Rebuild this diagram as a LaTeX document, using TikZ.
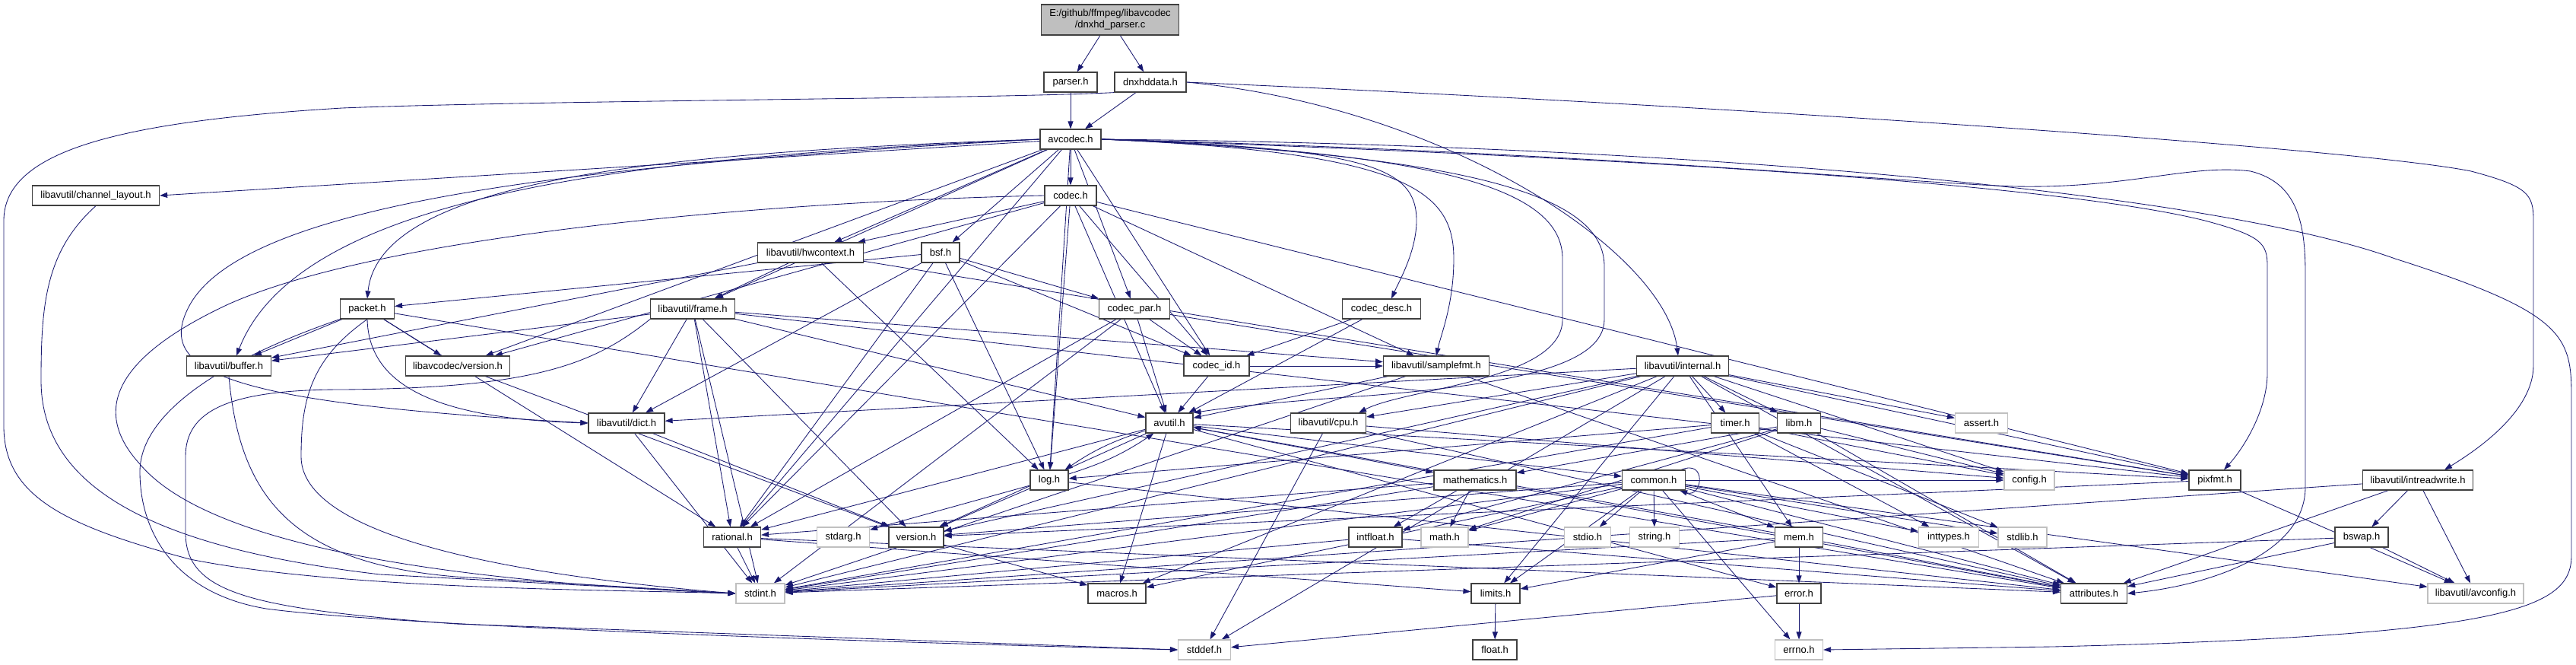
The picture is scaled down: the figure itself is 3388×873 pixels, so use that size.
\documentclass[tikz,border=0pt]{standalone}
\usepackage{fontspec}
\setmainfont{Liberation Sans}
\usetikzlibrary{arrows.meta}
\definecolor{edgec}{HTML}{191970}
\definecolor{nodeb}{HTML}{404040}
\definecolor{greyb}{HTML}{C0C0C0}
\definecolor{rootc}{HTML}{BFBFBF}
\newcommand{\nf}{\fontsize{13pt}{15pt}\selectfont}
\pgfdeclarelayer{back}
\pgfdeclarelayer{bg}
\pgfsetlayers{back,bg,main}
\begin{document}
\begin{tikzpicture}[x=1pt,y=-1pt,
  box/.style={draw=nodeb, line width=1.2pt, fill=white, minimum height=26pt, inner sep=0pt, font=\nf},
  gbox/.style={box, draw=greyb},
  e/.style={draw=edgec, line width=0.85pt, -{Triangle[length=10pt,width=7pt]}}]
\begin{pgfonlayer}{back}
\fill[white] (0,0) rectangle (3388,873);
\end{pgfonlayer}
\useasboundingbox (0,0) rectangle (3388,873);
% ---- nodes
\node[box, fill=rootc, minimum width=181pt, minimum height=40pt, align=center] (root) at (1460,26) {E:/github/ffmpeg/libavcodec\\/dnxhd\_parser.c};
\node[box, minimum width=70pt] (parser) at (1408,108) {parser.h};
\node[box, minimum width=94pt] (dnx) at (1513,108) {dnxhddata.h};
\node[box, minimum width=80pt] (avcodec) at (1408,183) {avcodec.h};
\node[box, minimum width=167pt] (chl) at (126,257) {libavutil/channel\_layout.h};
\node[box, minimum width=68pt] (codec) at (1408,257) {codec.h};
\node[box, minimum width=139pt] (hw) at (1066,332) {libavutil/hwcontext.h};
\node[box, minimum width=50pt] (bsf) at (1237,332) {bsf.h};
\node[box, minimum width=111pt] (frame) at (911,406) {libavutil/frame.h};
\node[box, minimum width=93pt] (cpar) at (1492,406) {codec\_par.h};
\node[box, minimum width=71pt] (packet) at (483,406) {packet.h};
\node[box, minimum width=103pt] (cdesc) at (1817,406) {codec\_desc.h};
\node[box, minimum width=111pt] (buffer) at (301,481) {libavutil/buffer.h};
\node[box, minimum width=137pt] (lcver) at (602,481) {libavcodec/version.h};
\node[box, minimum width=86pt] (cid) at (1600,481) {codec\_id.h};
\node[box, minimum width=139pt] (sfmt) at (1889,481) {libavutil/samplefmt.h};
\node[box, minimum width=121pt] (internal) at (2213,481) {libavutil/internal.h};
\node[box, minimum width=100pt] (dict) at (824,556) {libavutil/dict.h};
\node[box, minimum width=62pt] (avutil) at (1538,556) {avutil.h};
\node[box, minimum width=99pt] (cpu) at (1747,556) {libavutil/cpu.h};
\node[box, minimum width=63pt] (timer) at (2282,556) {timer.h};
\node[box, minimum width=57pt] (libm) at (2366,556) {libm.h};
\node[gbox, minimum width=69pt] (assert) at (2606,556) {assert.h};
\node[box, minimum width=50pt] (log) at (1380,631) {log.h};
\node[box, minimum width=108pt] (math) at (1940,631) {mathematics.h};
\node[box, minimum width=83pt] (common) at (2175,631) {common.h};
\node[gbox, minimum width=66pt] (config) at (2669,631) {config.h};
\node[box, minimum width=68pt] (pixfmt) at (2913,631) {pixfmt.h};
\node[box, minimum width=145pt] (irw) at (3180,631) {libavutil/intreadwrite.h};
\node[box, minimum width=75pt] (rational) at (963,706) {rational.h};
\node[gbox, minimum width=69pt] (stdarg) at (1109,706) {stdarg.h};
\node[box, minimum width=72pt] (version) at (1205,706) {version.h};
\node[box, minimum width=70pt] (intfloat) at (1809,706) {intfloat.h};
\node[gbox, minimum width=62pt] (mathh) at (1900,706) {math.h};
\node[gbox, minimum width=61pt] (stdio) at (2088,706) {stdio.h};
\node[gbox, minimum width=65pt] (string) at (2176,706) {string.h};
\node[box, minimum width=63pt] (mem) at (2366,706) {mem.h};
\node[gbox, minimum width=79pt] (inttypes) at (2563,706) {inttypes.h};
\node[gbox, minimum width=64pt] (stdlib) at (2660,706) {stdlib.h};
\node[box, minimum width=70pt] (bswap) at (3106,706) {bswap.h};
\node[gbox, minimum width=64pt] (stdint) at (1000,780) {stdint.h};
\node[box, minimum width=76pt] (macros) at (1469,780) {macros.h};
\node[box, minimum width=64pt] (limits) at (1967,780) {limits.h};
\node[box, minimum width=58pt] (error) at (2366,780) {error.h};
\node[box, minimum width=87pt] (attr) at (2754,780) {attributes.h};
\node[gbox, minimum width=126pt] (avconfig) at (3256,780) {libavutil/avconfig.h};
\node[gbox, minimum width=69pt] (stddef) at (1584,854) {stddef.h};
\node[box, minimum width=58pt] (float) at (1966,854) {float.h};
\node[gbox, minimum width=63pt] (errno) at (2366,854) {errno.h};
% ---- edges
\begin{pgfonlayer}{bg}
\draw[e] (root) -- (parser);
\draw[e] (root) -- (dnx);
\draw[e] (parser) -- (avcodec);
\draw[e] (dnx) -- (avcodec);
\draw[e] (dnx.south west) .. controls (1300,130) and (700,132) .. (450,142) .. controls (150,160) and (5,200) .. (5,290) -- (5,560) .. controls (5,650) and (80,690) .. (250,735) .. controls (450,775) and (800,775) .. (stdint.west);
\draw[e] (dnx.east) .. controls (1900,140) and (2190,330) .. ([xshift=-6pt]internal.north);
\draw[e] (dnx.east) .. controls (2300,140) and (3100,195) .. (3250,225) .. controls (3325,245) and (3332,255) .. (3332,290) -- (3332,480) .. controls (3332,540) and (3260,590) .. ([xshift=35pt]irw.north);
% avcodec
\draw[e] (avcodec) -- (chl.east);
\draw[e] (avcodec) -- (codec);
\draw[e] (avcodec) -- (hw);
\draw[e] (avcodec) -- (bsf);
\draw[e] (avcodec) -- (frame);
\draw[e] (avcodec) -- (cpar);
\draw[e] (avcodec.west) .. controls (900,200) and (500,230) .. (packet.north);
\draw[e] (avcodec.west) .. controls (900,205) and (400,240) .. ([xshift=10pt]buffer.north);
\draw[e] (avcodec) -- (lcver);
\draw[e] (avcodec.west) .. controls (800,215) and (330,260) .. (250,400) .. controls (200,490) and (300,530) .. (dict.west);
\draw[e] (avcodec) -- (cid);
\draw[e] (avcodec.east) .. controls (1850,200) and (1912,250) .. (1912,340) .. controls (1912,400) and (1895,440) .. (sfmt.north);
\draw[e] (avcodec.east) .. controls (1800,195) and (1863,220) .. (1863,290) .. controls (1863,330) and (1840,370) .. ([xshift=13pt]cdesc.north);
\draw[e] (avcodec.east) .. controls (1950,205) and (2110,260) .. (2110,350) -- (2110,420) .. controls (2110,480) and (1990,505) .. (1800,520) .. controls (1650,530) and (1600,538) .. (avutil.north east);
\draw[e] (avcodec.east) .. controls (1900,200) and (2055,250) .. (2055,340) -- (2055,420) .. controls (2055,500) and (1850,510) .. ([xshift=40pt]cpu.north);
\draw[e] (avcodec) -- (log);
\draw[e] (avcodec) -- (rational);
\draw[e] (avcodec.east) .. controls (2100,205) and (2700,240) .. (2900,290) .. controls (2975,310) and (2982,320) .. (2982,350) -- (2982,490) .. controls (2982,540) and (2950,590) .. ([xshift=12pt]pixfmt.north);
\draw[e] (avcodec.east) .. controls (2100,200) and (2500,240) .. (2650,245) .. controls (2800,248) and (2880,215) .. (2960,225) .. controls (3020,240) and (3032,290) .. (3032,360) -- (3032,640) .. controls (3032,730) and (2900,770) .. (attr.east);
\draw[e] (avcodec.east) .. controls (2200,190) and (2900,250) .. (3150,340) .. controls (3370,410) and (3382,440) .. (3382,520) -- (3382,730) .. controls (3382,800) and (3300,835) .. (2700,850) -- (errno.east);
% codec
\draw[e] (codec) -- (hw);
\draw[e] (codec.west) .. controls (1000,265) and (500,310) .. (300,400) .. controls (150,470) and (120,540) .. (184,610) .. controls (260,700) and (500,760) .. (stdint.west);
\draw[e] (codec) -- (avutil);
\draw[e] (codec) -- (log);
\draw[e] (codec) -- (pixfmt);
\draw[e] (codec) -- (rational);
\draw[e] (codec) -- (sfmt);
\draw[e] (codec) -- (cid);
\draw[e] (codec) -- (lcver);
% hwcontext
\draw[e] (hw) -- (buffer);
\draw[e] (hw) -- (frame);
\draw[e] (hw) -- (log);
\draw[e] (hw) -- (pixfmt);
% bsf
\draw[e] (bsf) -- (dict);
\draw[e] (bsf) -- (log);
\draw[e] (bsf) -- (rational);
\draw[e] (bsf) -- (cid);
\draw[e] (bsf) -- (cpar);
\draw[e] (bsf) -- (packet);
% frame
\draw[e] (frame.south west) .. controls (780,480) and (700,510) .. (450,512) .. controls (300,512) and (244,540) .. (244,600) -- (244,700) .. controls (244,780) and (330,800) .. (600,820) -- (stddef.west);
\draw[e] (frame) -- (stdint);
\draw[e] (frame) -- (avutil);
\draw[e] (frame) -- (buffer);
\draw[e] (frame) -- (dict);
\draw[e] (frame) -- (rational);
\draw[e] (frame) -- (sfmt);
\draw[e] (frame) -- (pixfmt);
\draw[e] (frame) -- (version);
% codec_par
\draw[e] (cpar) -- (stdint);
\draw[e] (cpar) -- (avutil);
\draw[e] (cpar) -- (rational);
\draw[e] (cpar) -- (pixfmt);
\draw[e] (cpar) -- (cid);
% packet
\draw[e] (packet.south west) .. controls (300,470) and (184,540) .. (184,620) .. controls (184,700) and (230,780) .. (350,800) .. controls (500,820) and (1000,840) .. (stddef.west);
\draw[e] (packet.south) .. controls (412,470) and (396,520) .. (396,600) .. controls (396,690) and (600,750) .. (stdint.west);
\draw[e] (packet) -- (attr);
\draw[e] (packet) -- (buffer);
\draw[e] (packet.south) .. controls (485,500) and (560,550) .. (dict.west);
\draw[e] (packet) -- (rational);
\draw[e] (packet) -- (lcver);
% codec_desc, codec_id
\draw[e] (cdesc) -- (avutil);
\draw[e] (cdesc) -- (cid);
\draw[e] (cid) -- (avutil);
\draw[e] (cid) -- (sfmt);
% small ones
\draw[e] (buffer.south) .. controls (315,650) and (380,740) .. (600,758) -- (stdint.west);
\draw[e] (chl.south) .. controls (60,330) and (54,400) .. (54,500) .. controls (54,640) and (200,720) .. (500,755) -- (stdint.west);
\draw[e] (lcver) -- (version);
\draw[e] (dict) -- (stdint);
\draw[e] (dict) -- (version);
\draw[e] (sfmt) -- (stdint);
\draw[e] (sfmt) -- (avutil);
\draw[e] (sfmt) -- (attr);
% avutil
\draw[e] (avutil) -- (common);
\draw[e] (avutil) -- (error);
\draw[e] (avutil) -- (rational);
\draw[e] (avutil) -- (version);
\draw[e] (avutil) -- (macros);
\draw[e] (avutil) -- (math);
\draw[e] (avutil) to[bend right=8] (log);
\draw[e] (avutil) -- (pixfmt);
% log
\draw[e] (log) -- (stdarg);
\draw[e] (log) to[bend right=8] (avutil);
\draw[e] (log) -- (attr);
\draw[e] (log) -- (version);
% rational, version
\draw[e] (rational) -- (stdint);
\draw[e] (rational) -- (limits);
\draw[e] (rational) -- (attr);
\draw[e] (version) -- (macros);
% common
\draw[e] (common) -- (errno);
\draw[e] (common) -- (inttypes);
\draw[e] (common) -- (limits);
\draw[e] (common) -- (mathh);
\draw[e] (common) -- (stdint);
\draw[e] (common) -- (stdio);
\draw[e] (common) -- (stdlib);
\draw[e] (common) -- (string);
\draw[e] (common) -- (attr);
\draw[e] (common) -- (macros);
\draw[e] (common) -- (version);
\draw[e] (common) -- (avconfig);
\draw[e] (common) -- (config);
\draw[e] (common) -- (mem);
\draw[e] ([xshift=-6pt]common.north east) .. controls +(34,-14) and +(30,10) .. ([xshift=-8pt]common.south east);
% mathematics, intfloat
\draw[e] (math) -- (stdint);
\draw[e] (math) -- (mathh);
\draw[e] (math) -- (attr);
\draw[e] (math) -- (rational);
\draw[e] (math) -- (intfloat);
\draw[e] (intfloat) -- (stdint);
\draw[e] (intfloat) -- (attr);
% error, mem, pixfmt, limits
\draw[e] (error) -- (errno);
\draw[e] (error) -- (stddef);
\draw[e] (mem) -- (limits);
\draw[e] (mem) -- (stdint);
\draw[e] (mem) -- (attr);
\draw[e] (mem) -- (error);
\draw[e] (mem) -- (avutil);
\draw[e] (pixfmt) -- (avconfig);
\draw[e] (pixfmt) -- (version);
\draw[e] (limits) -- (float);
% cpu
\draw[e] (cpu) -- (stddef);
\draw[e] (cpu) -- (attr);
\draw[e] (cpu) -- (config);
% internal
\draw[e] (internal) -- (limits);
\draw[e] (internal) -- (stdint);
\draw[e] (internal) -- (stddef);
\draw[e] (internal) -- (assert);
\draw[e] (internal) -- (config);
\draw[e] (internal) -- (attr);
\draw[e] (internal) -- (timer);
\draw[e] (internal) -- (cpu);
\draw[e] (internal) -- (dict);
\draw[e] (internal) -- (macros);
\draw[e] (internal) -- (mem);
\draw[e] (internal) -- (pixfmt);
\draw[e] (internal) -- (version);
\draw[e] (internal) -- (libm);
% timer, libm
\draw[e] (timer) -- (config);
\draw[e] (timer) -- (stdlib);
\draw[e] (timer) -- (stdint);
\draw[e] (timer) -- (inttypes);
\draw[e] (timer) -- (log);
\draw[e] (libm) -- (mathh);
\draw[e] (libm) -- (config);
\draw[e] (libm) -- (attr);
\draw[e] (libm) -- (intfloat);
\draw[e] (libm) -- (math);
% intreadwrite, bswap
\draw[e] (irw) -- (stdint);
\draw[e] (irw) -- (avconfig);
\draw[e] (irw) -- (attr);
\draw[e] (irw) -- (bswap);
\draw[e] (bswap) -- (stdint);
\draw[e] (bswap) -- (avconfig);
\draw[e] (bswap) -- (attr);
\end{pgfonlayer}
\end{tikzpicture}
\end{document}
